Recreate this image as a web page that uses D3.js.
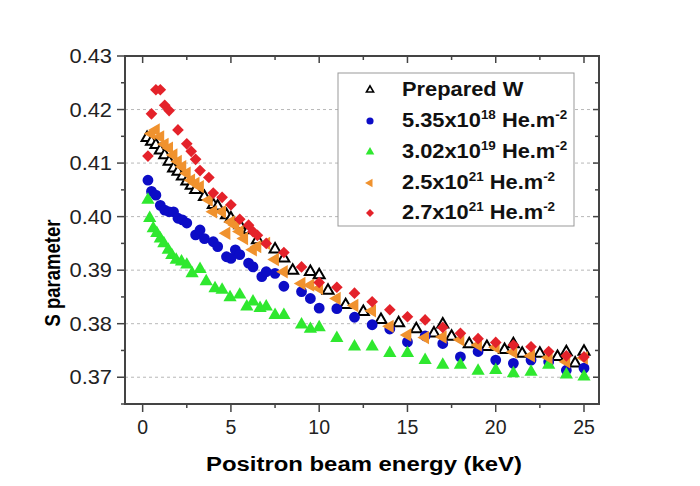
<!DOCTYPE html>
<html><head><meta charset="utf-8">
<script src="https://cdn.jsdelivr.net/npm/d3@7"></script>
<style>body{margin:0;background:#fff} text{font-family:Arial,"Liberation Sans",sans-serif}</style>
</head><body><svg id="c" width="700" height="486"></svg>
<script>
// ---- data ----
const eBlack=[0.25,0.5,0.75,1,1.25,1.5,1.75,2,2.25,2.5,2.75,3,3.5,4,4.25,4.75,5,5.5,6,6.5,7.5,8,8.5,9.5,10,10.5,11.5,12.5,13.5,14.5,15.5,16.5,17,17.5,18.5,19.5,20.5,21,21.5,22.5,23.5,24,24.5,25];
const sBlack=[0.4147,0.4140,0.4134,0.4124,0.4115,0.4103,0.4090,0.4084,0.4075,0.4066,0.4058,0.4050,0.4037,0.4022,0.4019,0.4003,0.3997,0.3984,0.3975,0.3956,0.3939,0.3922,0.3899,0.3897,0.3891,0.3862,0.3835,0.3822,0.3807,0.3801,0.3790,0.3782,0.3799,0.3776,0.3762,0.3757,0.3751,0.3762,0.3744,0.3744,0.3738,0.3747,0.3726,0.3748];
const eBlue=[0.3,0.5,0.75,1,1.25,1.5,1.75,2,2.25,2.5,3,3.25,3.5,4,4.25,4.75,5,5.25,5.5,6,6.25,6.75,7,7.5,8,9,9.5,10,11,12,13,14,15,16,17,18,19,20,21,22,23,24,25];
const sBlue=[0.4068,0.4047,0.4040,0.4021,0.4012,0.4009,0.4009,0.3997,0.3994,0.3988,0.3966,0.3975,0.3959,0.3953,0.3944,0.3925,0.3922,0.3938,0.3929,0.3913,0.3906,0.3888,0.3897,0.3894,0.3870,0.3860,0.3847,0.3829,0.3828,0.3812,0.3798,0.3790,0.3766,0.3777,0.3763,0.3738,0.3748,0.3732,0.3726,0.3732,0.3729,0.3713,0.3717];
const eGreen=[0.3,0.4,0.6,0.8,1,1.2,1.45,1.65,1.9,2.2,2.5,2.8,3.25,3.6,4.1,4.5,4.95,5.5,5.9,6.25,6.65,7,7.5,8,9,9.5,10,11,12,13,14,15,16,17,18,19,20,21,22,23,24,25];
const sGreen=[0.4031,0.3997,0.3978,0.3969,0.3959,0.3950,0.3938,0.3928,0.3919,0.3916,0.3910,0.3894,0.3902,0.3879,0.3866,0.3863,0.3849,0.3854,0.3832,0.3841,0.3829,0.3832,0.3816,0.3816,0.3798,0.3790,0.3793,0.3773,0.3757,0.3757,0.3745,0.3745,0.3732,0.3723,0.3723,0.3712,0.3713,0.3707,0.3710,0.3723,0.3705,0.3701];
const eOrange=[0.5,0.75,1,1.25,1.5,1.75,2,2.25,2.5,2.75,3,3.25,3.75,4,4.5,4.75,5,5.25,5.5,5.75,6.25,6.5,7,7.5,8,9,9.5,10,11,12,13,14,15,16,17,18,19,20,21,22,23,24,25];
const sOrange=[0.4155,0.4162,0.4149,0.4135,0.4128,0.4115,0.4103,0.4093,0.4081,0.4068,0.4062,0.4056,0.4031,0.4009,0.4009,0.3969,0.3990,0.3984,0.3972,0.3959,0.3938,0.3944,0.3950,0.3920,0.3897,0.3875,0.3872,0.3866,0.3847,0.3834,0.3824,0.3795,0.3779,0.3774,0.3775,0.3770,0.3760,0.3756,0.3747,0.3740,0.3737,0.3729,0.3736];
const eRed=[0.3,0.5,0.75,1,1.25,1.5,2,2.5,2.75,3,3.25,3.75,4,4.5,5,5.5,6,6.25,6.5,7,8,9,10,11,12,13,14,15,16,17,18,19,20,21,22,23,24,25];
const sRed=[0.4113,0.4192,0.4237,0.4237,0.4208,0.4198,0.4162,0.4136,0.4122,0.4107,0.4086,0.4073,0.4044,0.4036,0.4022,0.3995,0.3984,0.3972,0.3965,0.3950,0.3933,0.3906,0.3877,0.3868,0.3857,0.3841,0.3826,0.3813,0.3807,0.3793,0.3782,0.3772,0.3765,0.3760,0.3757,0.3748,0.3740,0.3738];
const yTicks=[0.37,0.38,0.39,0.40,0.41,0.42,0.43];
const xTicks=[0,5,10,15,20,25];
const legendBase=["Prepared W","5.35x10","3.02x10","2.5x10","2.7x10"];
const legendExp=["","18","19","21","21"];
const xTitle="Positron beam energy (keV)";
const yTitle="S parameter";

// ---- chart ----
const svg=d3.select("#c");
const L=125,R=599,T=56,B=404;
const x=d3.scaleLinear().domain([-1,25.85]).range([L,R]);
const y=d3.scaleLinear().domain([0.365,0.43]).range([B,T]);
const axisCol="#444";

// grid
svg.append("g").selectAll("line").data(yTicks.filter(v=>v<0.429)).join("line")
  .attr("x1",L).attr("x2",R).attr("y1",d=>y(d)).attr("y2",d=>y(d))
  .attr("stroke","#b8b8b8").attr("stroke-width",1).attr("stroke-dasharray","3,3");

const series=[
 {e:eBlack,s:sBlack,type:"tri",fill:"#fff",stroke:"#000",size:52,rot:0,sw:2},
 {e:eBlue,s:sBlue,type:"circle",fill:"#0c0cc6",stroke:"none",size:92,rot:0,sw:0},
 {e:eGreen,s:sGreen,type:"tri",fill:"#2fe82f",stroke:"none",size:76,rot:0,sw:0},
 {e:eOrange,s:sOrange,type:"tri",fill:"#f0922e",stroke:"none",size:78,rot:-90,sw:0},
 {e:eRed,s:sRed,type:"sq",fill:"#e4222a",stroke:"none",size:68,rot:45,sw:0}
];
const symType={tri:d3.symbolTriangle,circle:d3.symbolCircle,sq:d3.symbolSquare};
series.forEach(sr=>{
  const sym=d3.symbol().type(symType[sr.type]).size(sr.size);
  svg.append("g").selectAll("path").data(sr.e.map((e,i)=>[e,sr.s[i]])).join("path")
    .attr("d",sym)
    .attr("transform",d=>`translate(${x(d[0])},${y(d[1])}) rotate(${sr.rot})`)
    .attr("fill",sr.fill).attr("stroke",sr.stroke).attr("stroke-width",sr.sw);
});

// axes
const fmt=d3.format(".2f");
const yMinor=d3.range(0.365,0.4301,0.005);
const xMinor=d3.range(-0,25.01,2.5);
const gAx=svg.append("g").attr("stroke",axisCol);
yMinor.forEach(v=>{const maj=Math.abs(v*100-Math.round(v*100))<1e-6;
  gAx.append("line").attr("x1",L).attr("x2",L-(maj?8:4)).attr("y1",y(v)).attr("y2",y(v)).attr("stroke-width",1.5);
  gAx.append("line").attr("x1",R).attr("x2",R-(maj?6:4)).attr("y1",y(v)).attr("y2",y(v)).attr("stroke-width",1.5);
});
xMinor.forEach(v=>{const maj=v%5===0;
  gAx.append("line").attr("y1",B).attr("y2",B+(maj?8:4)).attr("x1",x(v)).attr("x2",x(v)).attr("stroke-width",1.5);
  gAx.append("line").attr("y1",T).attr("y2",T+(maj?7:4)).attr("x1",x(v)).attr("x2",x(v)).attr("stroke-width",1.5);
});
gAx.append("rect").attr("x",L).attr("y",T).attr("width",R-L).attr("height",B-T).attr("fill","none").attr("stroke-width",2);

// tick labels
svg.append("g").selectAll("text").data(yTicks).join("text")
  .attr("transform",d=>`translate(112,${y(d)+7}) scale(1.12,1)`)
  .attr("text-anchor","end").attr("font-size",19.5).attr("fill","#222").text(d=>fmt(d));
svg.append("g").selectAll("text").data(xTicks).join("text")
  .attr("x",d=>x(d)).attr("y",434).attr("text-anchor","middle").attr("font-size",19.5).attr("fill","#222").text(d=>d);

// titles
svg.append("text").attr("x",364).attr("y",471).attr("text-anchor","middle")
  .attr("font-size",19.5).attr("font-weight","bold").attr("textLength",316).attr("lengthAdjust","spacingAndGlyphs").text(xTitle);
svg.append("text").attr("transform","translate(60,273) scale(1.18,1) rotate(-90)").attr("text-anchor","middle")
  .attr("font-size",18.5).attr("font-weight","bold").text(yTitle);

// legend
svg.append("rect").attr("x",338).attr("y",73).attr("width",236).attr("height",153)
  .attr("fill","#fff").attr("stroke","#999").attr("stroke-width",1);
const rowY=[89,120,151,182,212];
series.forEach((sr,i)=>{
  const sym=d3.symbol().type(symType[sr.type]).size(sr.type==="circle"?40:(sr.type==="tri"&&i===0?22:32));
  svg.append("path").attr("d",sym).attr("transform",`translate(370,${rowY[i]+1}) rotate(${sr.rot})`)
    .attr("fill",sr.fill).attr("stroke",sr.stroke).attr("stroke-width",i===0?1.6:0);
  const t=svg.append("text").attr("transform",`translate(402,${rowY[i]+7}) scale(1.12,1)`)
    .attr("font-size",19.5).attr("font-weight","bold").attr("fill","#111");
  t.append("tspan").text(legendBase[i]);
  if(legendExp[i]){
    t.append("tspan").attr("dy",-8).attr("font-size",12).text(legendExp[i]);
    t.append("tspan").attr("dy",8).text(" He.m");
    t.append("tspan").attr("dy",-8).attr("font-size",12).text("-2");
  }
});
</script></body></html>
